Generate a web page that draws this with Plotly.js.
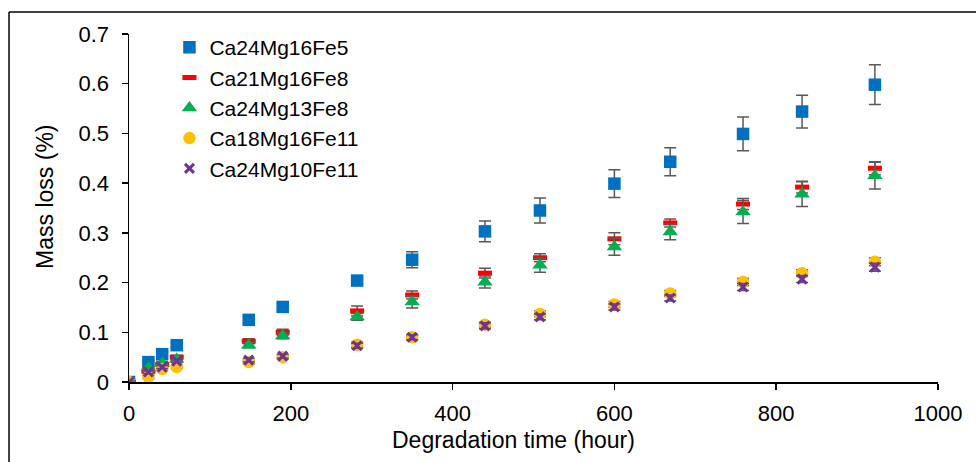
<!DOCTYPE html>
<html>
<head>
<meta charset="utf-8">
<script src="https://cdn.plot.ly/plotly-3.0.1.min.js"></script>
<style>html,body{margin:0;padding:0;background:#fff;}#chart{width:976px;height:462px;}</style>
</head>
<body>
<div id="chart"></div>
<script>
// Degradation time (hour)
const hours = [0, 24, 41, 59, 148, 190, 282, 350, 440, 508, 600, 669, 759, 832, 922];

const seriesNames = ["Ca24Mg16Fe5", "Ca21Mg16Fe8", "Ca24Mg13Fe8", "Ca18Mg16Fe11", "Ca24Mg10Fe11"];

const ca24mg16fe5 = [0, 0.040, 0.056, 0.074, 0.125, 0.151, 0.204, 0.246, 0.303, 0.345, 0.399, 0.443, 0.499, 0.544, 0.598];
const ca24mg16fe5Err = [0.003, 0.004, 0.004, 0.005, 0.006, 0.007, 0.008, 0.016, 0.021, 0.025, 0.028, 0.028, 0.034, 0.033, 0.040];

const ca21mg16fe8 = [0, 0.022, 0.035, 0.050, 0.082, 0.100, 0.143, 0.175, 0.219, 0.250, 0.288, 0.320, 0.358, 0.392, 0.430];
const ca21mg16fe8Err = [0.002, 0.003, 0.003, 0.004, 0.005, 0.006, 0.010, 0.008, 0.010, 0.008, 0.012, 0.008, 0.011, 0.012, 0.013];

const ca24mg13fe8 = [0, 0.028, 0.038, 0.046, 0.074, 0.093, 0.131, 0.161, 0.201, 0.235, 0.272, 0.302, 0.342, 0.378, 0.415];
const ca24mg13fe8Err = [0.002, 0.003, 0.003, 0.004, 0.005, 0.006, 0.007, 0.012, 0.012, 0.014, 0.017, 0.016, 0.023, 0.025, 0.027];

const ca18mg16fe11 = [0, 0.010, 0.026, 0.030, 0.040, 0.050, 0.075, 0.090, 0.115, 0.137, 0.156, 0.178, 0.201, 0.219, 0.242];
const ca18mg16fe11Err = [0.002, 0.003, 0.003, 0.003, 0.004, 0.004, 0.005, 0.005, 0.005, 0.006, 0.006, 0.006, 0.007, 0.007, 0.008];

const ca24mg10fe11 = [0, 0.020, 0.030, 0.042, 0.044, 0.052, 0.073, 0.090, 0.113, 0.131, 0.151, 0.169, 0.191, 0.207, 0.231];
const ca24mg10fe11Err = [0.002, 0.003, 0.003, 0.003, 0.004, 0.004, 0.005, 0.005, 0.006, 0.006, 0.006, 0.006, 0.007, 0.007, 0.008];

const xTickVals = [0, 200, 400, 600, 800, 1000];
const yTickVals = [0, 0.1, 0.2, 0.3, 0.4, 0.5, 0.6, 0.7];
const yTickText = ["0", "0.1", "0.2", "0.3", "0.4", "0.5", "0.6", "0.7"];

const FONT = 'Arial, "Liberation Sans", sans-serif';
const errStyle = (arr) => ({type: 'data', array: arr, visible: true, color: '#595959', thickness: 1.5, width: 6});

const traces = [
  {x: hours, y: ca24mg16fe5, name: seriesNames[0], type: 'scatter', mode: 'markers',
   marker: {symbol: 'square', size: 12.5, color: '#0070C0'}, error_y: errStyle(ca24mg16fe5Err)},
  {x: hours, y: ca21mg16fe8, name: seriesNames[1], type: 'scatter', mode: 'markers',
   marker: {symbol: 'line-ew', size: 10, color: '#FF0000', line: {color: '#FF0000', width: 5}}, error_y: errStyle(ca21mg16fe8Err)},
  {x: hours, y: ca24mg13fe8, name: seriesNames[2], type: 'scatter', mode: 'markers',
   marker: {symbol: 'triangle-up', size: 13.5, color: '#00B050'}, error_y: errStyle(ca24mg13fe8Err)},
  {x: hours, y: ca18mg16fe11, name: seriesNames[3], type: 'scatter', mode: 'markers',
   marker: {symbol: 'circle', size: 12.5, color: '#FFC000'}, error_y: errStyle(ca18mg16fe11Err)},
  {x: hours, y: ca24mg10fe11, name: seriesNames[4], type: 'scatter', mode: 'markers',
   marker: {symbol: 'x-thin', size: 9, color: '#7030A0', line: {color: '#7030A0', width: 3}}, error_y: errStyle(ca24mg10fe11Err)}
];

const layout = {
  width: 976, height: 462,
  margin: {l: 129, r: 38, t: 34, b: 80},
  paper_bgcolor: '#ffffff', plot_bgcolor: '#ffffff',
  font: {family: FONT, color: '#000000', size: 21},
  showlegend: true,
  legend: {x: 0.05, y: 1.02, xanchor: 'left', yanchor: 'top', bgcolor: 'rgba(0,0,0,0)',
           font: {family: FONT, size: 21, color: '#000'}, tracegroupgap: 0},
  xaxis: {range: [0, 1000], tickvals: xTickVals, ticks: 'outside', ticklen: 6, tickwidth: 1.5, tickcolor: '#000',
          ticklabelstandoff: 5,
          showline: true, linecolor: '#000', linewidth: 1.5, showgrid: false, zeroline: false,
          tickfont: {family: FONT, size: 22, color: '#000'}, fixedrange: true},
  yaxis: {range: [0, 0.7], tickvals: yTickVals, ticktext: yTickText, ticks: 'outside', ticklen: 6, tickwidth: 1.5, tickcolor: '#000',
          ticklabelstandoff: 8,
          showline: true, linecolor: '#000', linewidth: 1.5, showgrid: false, zeroline: false,
          tickfont: {family: FONT, size: 22, color: '#000'}, fixedrange: true},
  annotations: [
    {text: 'Degradation time (hour)', xref: 'paper', yref: 'paper', x: 0.4747, y: -0.1667,
     xanchor: 'center', yanchor: 'middle', showarrow: false, font: {family: FONT, size: 23, color: '#000'}},
    {text: 'Mass loss (%)', xref: 'paper', yref: 'paper', x: -0.1038, y: 0.532, textangle: -90,
     xanchor: 'center', yanchor: 'middle', showarrow: false, font: {family: FONT, size: 23, color: '#000'}}
  ],
  shapes: [
    {type: 'line', xref: 'paper', yref: 'paper', x0: -0.1483, x1: -0.1483, y0: -0.3, y1: 1.0632, line: {color: '#000', width: 1.5}},
    {type: 'line', xref: 'paper', yref: 'paper', x0: -0.1483, x1: 1.1, y0: 1.0632, y1: 1.0632, line: {color: '#000', width: 1.5}}
  ]
};

Plotly.newPlot('chart', traces, layout, {staticPlot: true, displayModeBar: false});
</script>
</body>
</html>
